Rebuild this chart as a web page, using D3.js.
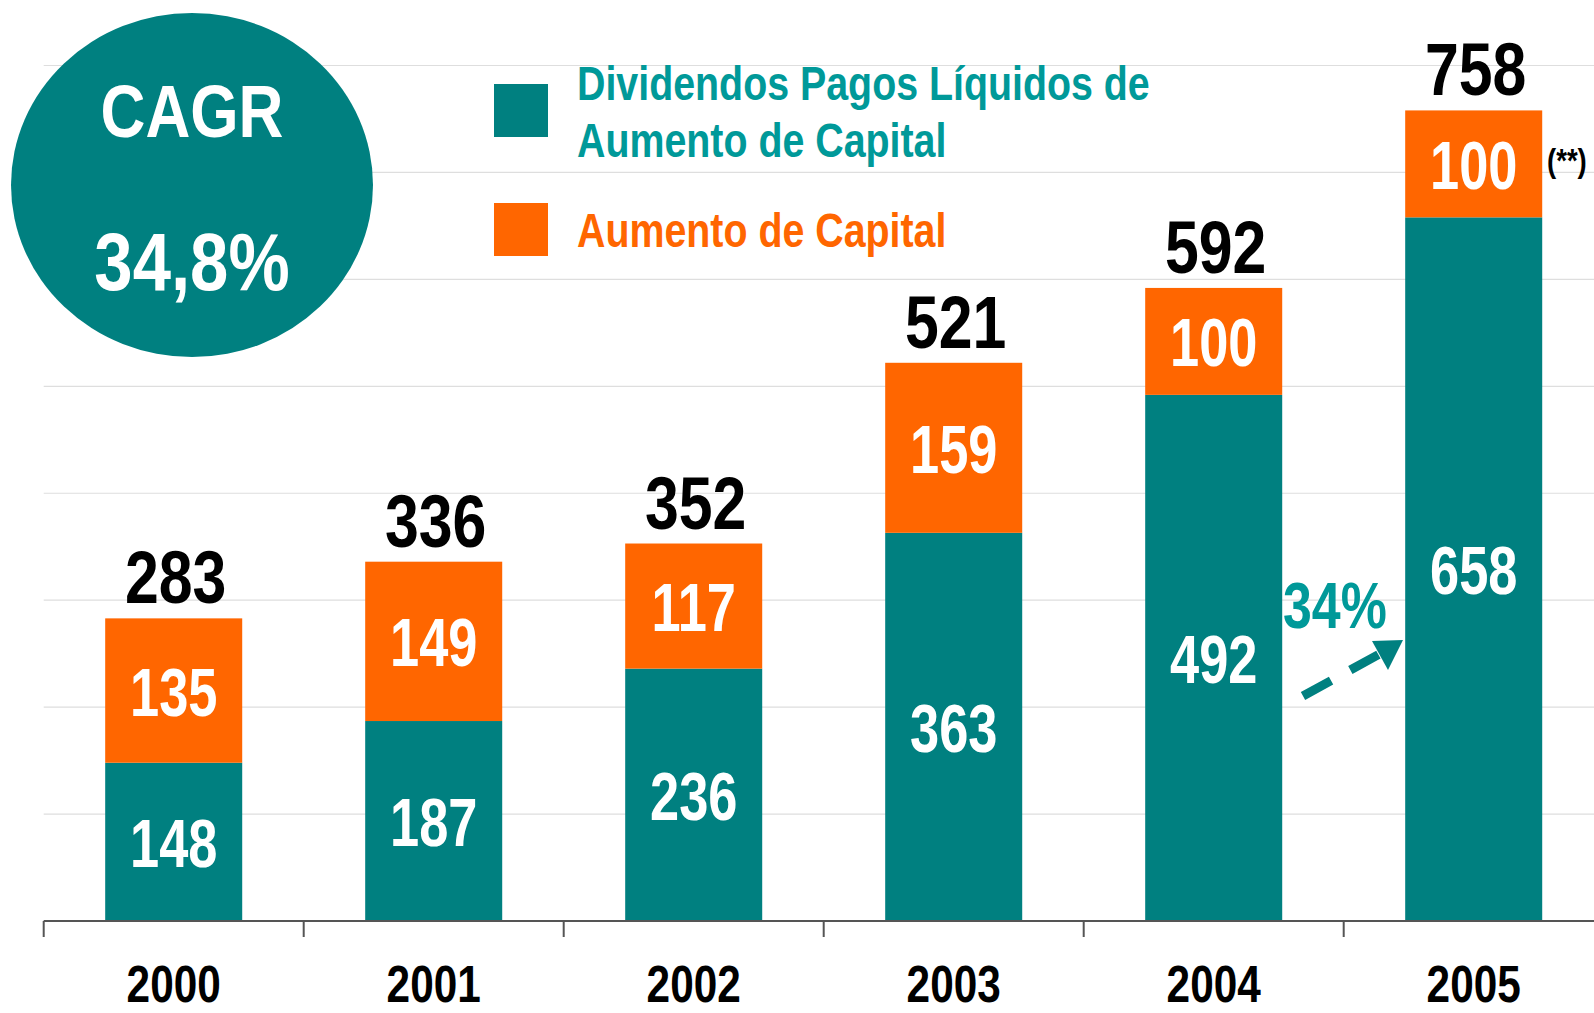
<!DOCTYPE html>
<html><head><meta charset="utf-8">
<script src="https://cdn.jsdelivr.net/npm/d3@7"></script>
<style>
html,body{margin:0;padding:0;background:#fff;}
svg text{font-family:"Liberation Sans","Arial",sans-serif;font-weight:bold;}
</style></head>
<body>
<svg id="c" width="1594" height="1013"></svg>
<script>
const years = ["2000","2001","2002","2003","2004","2005"];
const dividendos = [148,187,236,363,492,658];
const aumento = [135,149,117,159,100,100];
const totals = [283,336,352,521,592,758];
const gridTicks = [0,100,200,300,400,500,600,700,800];
const legendLabels = ["Dividendos Pagos Líquidos de|Aumento de Capital","Aumento de Capital"];

const teal = "#008080", tealText = "#009999", orange = "#FF6600";
const SX = 0.81; // narrow font emulation
const svg = d3.select("#c");
const x0 = 43.7, bandW = 260;
const x = d3.scaleBand().domain(years).range([x0, x0 + bandW*years.length]).paddingInner(0.473).paddingOuter(0.2365);
const y = d3.scaleLinear().domain([0,800]).range([921, 65.5]);

function T(parent, tx, ty, str, size, fill, anchor, sx){
  return parent.append("text")
    .attr("transform", `translate(${tx},${ty}) scale(${sx||SX},1)`)
    .attr("text-anchor", anchor || "middle")
    .attr("font-size", size).attr("fill", fill).text(str);
}

// gridlines
svg.append("g").selectAll("line").data(gridTicks.slice(1)).join("line")
  .attr("x1", x0).attr("x2", 1594).attr("y1", d=>y(d)).attr("y2", d=>y(d))
  .attr("stroke", "#dedede").attr("stroke-width", 1.2);

// bars
const g = svg.append("g");
g.selectAll("rect.t").data(years).join("rect").attr("class","t")
  .attr("x", d=>x(d)).attr("width", x.bandwidth())
  .attr("y", (d,i)=>y(dividendos[i])).attr("height", (d,i)=>y(0)-y(dividendos[i]))
  .attr("fill", teal);
g.selectAll("rect.o").data(years).join("rect").attr("class","o")
  .attr("x", d=>x(d)).attr("width", x.bandwidth())
  .attr("y", (d,i)=>y(dividendos[i]+aumento[i])).attr("height", (d,i)=>y(dividendos[i])-y(dividendos[i]+aumento[i]))
  .attr("fill", orange);

// labels
years.forEach((d,i)=>{
  const cx = x(d)+x.bandwidth()/2;
  T(g, cx, (y(0)+y(dividendos[i]))/2 + 25, dividendos[i], 68, "#fff", "middle", 0.77);
  T(g, cx, (y(dividendos[i])+y(dividendos[i]+aumento[i]))/2 + 25, aumento[i], 68, "#fff", "middle", 0.77);
  T(g, cx + 2, y(dividendos[i]+aumento[i]) - 15, totals[i], 75, "#000");
});

// axis
const axis = d3.axisBottom(x).tickSize(0).tickFormat(d=>d);
const ax = svg.append("g").attr("transform","translate(0,921)").call(axis);
ax.select(".domain").remove();
ax.selectAll(".tick text").attr("font-size",51).attr("fill","#000").attr("dy",0).attr("y",0)
  .attr("transform",`translate(0,81) scale(0.83,1)`);
svg.append("line").attr("x1",x0).attr("x2",1594).attr("y1",921).attr("y2",921).attr("stroke","#555").attr("stroke-width",2);
svg.append("g").selectAll("line").data(d3.range(years.length)).join("line")
  .attr("x1",i=>x0+i*bandW).attr("x2",i=>x0+i*bandW).attr("y1",921).attr("y2",937)
  .attr("stroke","#555").attr("stroke-width",2);

// CAGR ellipse
svg.append("ellipse").attr("cx",192).attr("cy",185).attr("rx",181).attr("ry",172).attr("fill",teal);
T(svg, 192, 137, "CAGR", 74, "#fff", "middle", 0.84);
T(svg, 192, 290, "34,8%", 82, "#fff", "middle", 0.84);

// legend
svg.append("rect").attr("x",494).attr("y",84).attr("width",54).attr("height",53).attr("fill",teal);
svg.append("rect").attr("x",494).attr("y",203).attr("width",54).attr("height",53).attr("fill",orange);
const l1 = legendLabels[0].split("|");
T(svg, 577, 100, l1[0], 48, tealText, "start", 0.82);
T(svg, 577, 157, l1[1], 48, tealText, "start", 0.82);
T(svg, 577, 247, legendLabels[1], 48, orange, "start", 0.82);

// 34% annotation
T(svg, 1283, 628, "34%", 64, tealText, "start");
svg.append("line").attr("x1",1303).attr("y1",696).attr("x2",1385).attr("y2",651)
  .attr("stroke",teal).attr("stroke-width",9).attr("stroke-dasharray","32,22");
svg.append("path").attr("d","M1403,640 L1372,641 L1388,670 Z").attr("fill",teal);

// (**)
T(svg, 1547, 172, "(**)", 34, "#000", "start");
</script>
</body></html>
